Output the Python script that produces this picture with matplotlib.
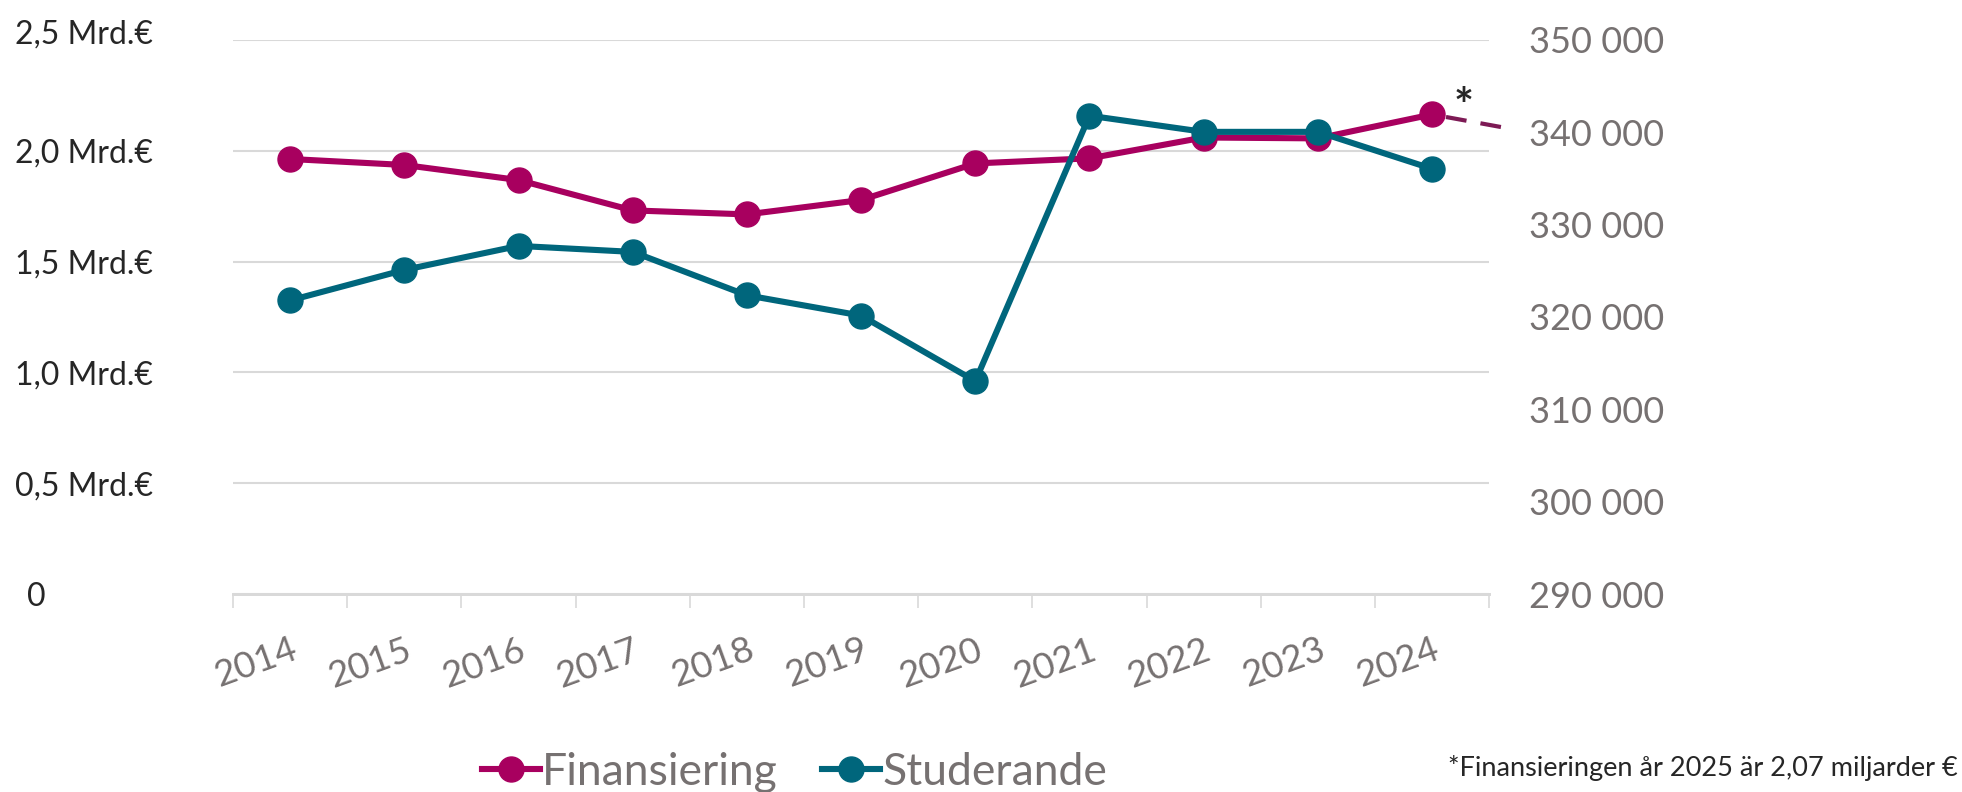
import matplotlib
matplotlib.use("Agg")
import matplotlib.pyplot as plt
from matplotlib.lines import Line2D
from matplotlib.transforms import Bbox, TransformedBbox, ScaledTranslation
import numpy as np

years = ["2014", "2015", "2016", "2017", "2018", "2019", "2020", "2021", "2022", "2023", "2024"]
finansiering = [1.963, 1.936, 1.868, 1.731, 1.713, 1.778, 1.943, 1.966, 2.060, 2.056, 2.164]
studerande = [321800, 325100, 327700, 327050, 322350, 320150, 313050, 341800, 340050, 340050, 336050]
fin_2025 = 2.07

left_ticks = [0, 0.5, 1.0, 1.5, 2.0, 2.5]
left_labels = ["0", "0,5 Mrd.€", "1,0 Mrd.€", "1,5 Mrd.€", "2,0 Mrd.€", "2,5 Mrd.€"]
right_ticks = [290000, 300000, 310000, 320000, 330000, 340000, 350000]

C_FIN = "#a8005f"
C_STU = "#00667c"
C_DASH = "#7d1a55"
C_GRID = "#d9d9d9"
C_GREY = "#767171"
C_DARK = "#262626"

plt.rcParams["font.family"] = ["Lato", "DejaVu Sans"]

fig = plt.figure(figsize=(19.62, 7.92), dpi=100)
ax = fig.add_axes([0.1188, 0.25, 0.6402, 0.6995])
ax2 = ax.twinx()

x = np.arange(len(years))

# Finansiering on the left axis, dashed continuation towards 2025
ax.plot(x, finansiering, "o-", color=C_FIN, lw=4.4, ms=18, zorder=3, clip_on=False)
dash = ax.plot([x[-1], x[-1] + 1], [finansiering[-1], fin_2025], color=C_DASH,
               lw=3, ls=(5.0, (5, 3.4)), zorder=2, clip_on=True)[0]
dash.set_clip_box(TransformedBbox(Bbox([[0, 0], [1.012, 1]]), ax.transAxes))
ax.annotate("*", xy=(x[-1], finansiering[-1]), xytext=(23, 5), textcoords="offset points",
            fontsize=34, fontweight="bold", color=C_DARK, ha="center", va="center")

# Studerande on the right axis
ax2.plot(x, studerande, "o-", color=C_STU, lw=4.4, ms=18, zorder=3, clip_on=False)

ax.set_xlim(-0.5, len(years) - 0.5)
ax.set_ylim(0, 2.5)
ax2.set_ylim(290000, 350000)

ax.set_yticks(left_ticks)
ax.set_yticklabels(left_labels)
ax.tick_params(axis="y", length=0, pad=157, labelsize=23, labelcolor=C_DARK)
for lbl in ax.get_yticklabels():
    lbl.set_horizontalalignment("left")
zero_lbl = ax.get_yticklabels()[0]
zero_lbl.set_transform(zero_lbl.get_transform() + ScaledTranslation(0.12, 0, fig.dpi_scale_trans))
top_lbl = ax.get_yticklabels()[-1]
top_lbl.set_transform(top_lbl.get_transform() + ScaledTranslation(0, 0.08, fig.dpi_scale_trans))

ax2.set_yticks(right_ticks)
ax2.set_yticklabels([f"{v:,}".replace(",", " ") for v in right_ticks])
ax2.tick_params(axis="y", length=0, pad=29, labelsize=26, labelcolor=C_GREY)

ax.set_xticks(x)
ax.set_xticklabels(years, rotation=20, ha="right", rotation_mode="anchor")
ax.tick_params(axis="x", which="major", length=0, pad=28, labelsize=26.5, labelcolor=C_GREY)
ax.set_xticks(np.arange(-0.5, len(years), 1), minor=True)
ax.tick_params(axis="x", which="minor", length=10, width=1.2, color=C_GRID)

ax.grid(axis="y", color=C_GRID, lw=1.5)
ax.set_axisbelow(True)
for a in (ax, ax2):
    for side in ("left", "right", "top"):
        a.spines[side].set_visible(False)
    a.spines["bottom"].set_color(C_GRID)
    a.spines["bottom"].set_linewidth(2)

handles = [
    Line2D([], [], color=C_FIN, lw=4.4, marker="o", ms=18),
    Line2D([], [], color=C_STU, lw=4.4, marker="o", ms=18),
]
fig.legend(handles, ["Finansiering", "Studerande"], loc="center", bbox_to_anchor=(0.405, 0.025),
           ncol=2, frameon=False, fontsize=32, labelcolor=C_GREY, handlelength=1.3,
           handletextpad=0.05, columnspacing=1.0)

fig.text(0.998, 0.03, "*Finansieringen år 2025 är 2,07 miljarder €", ha="right", va="center",
         fontsize=19.5, color=C_DARK)

fig.savefig("out.png", dpi=100, facecolor="white")
